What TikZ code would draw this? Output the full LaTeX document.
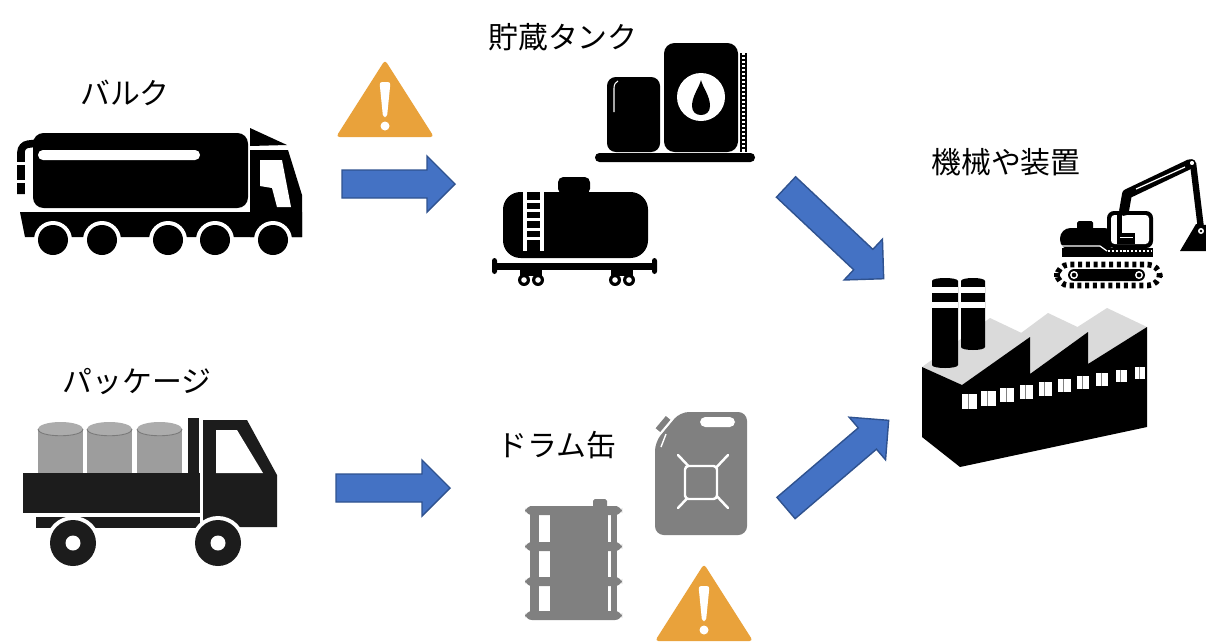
\documentclass[tikz,border=0pt]{standalone}
\usepackage{fontspec}
\usepackage{xcolor}
\newfontfamily\jpfont{Noto Sans CJK JP}

\definecolor{flowblue}{HTML}{4472C4}
\definecolor{flowedge}{HTML}{2F528F}
\definecolor{warnorange}{HTML}{E9A23B}
\definecolor{cangray}{HTML}{808080}
\definecolor{barrelgray}{HTML}{9D9D9D}
\definecolor{barreledge}{HTML}{7A7A7A}
\definecolor{truckgray}{HTML}{1C1C1C}
\definecolor{roofgray}{HTML}{DADADA}

\begin{document}
\begin{tikzpicture}[x=0.02cm, y=-0.02cm,
    jptext/.style={font=\jpfont\fontsize{17}{20}\selectfont, inner sep=0pt},
    flow/.style={fill=flowblue, draw=flowedge, line width=0.8pt},
    warnsign/.style={fill=warnorange, rounded corners=2pt}]

    % White page, sized in pixels
    \fill[white] (0,0) rectangle (1206,643);
    \useasboundingbox (0,0) rectangle (1206,643);

    % Labels
    \node[jptext] (bulk) at (125,93) {バルク};
    \node[jptext] (storage) at (563,37) {貯蔵タンク};
    \node[jptext] (machinery) at (1006,162) {機械や装置};
    \node[jptext] (package) at (137,382) {パッケージ};
    \node[jptext] (drum) at (557,445) {ドラム缶};

    % Block arrows: tail x / tail y / angle / length
    \foreach \x/\y/\a/\l in {342/184/0/113, 336/488/0/114, 786/187/-43.2/134, 786/508/40.5/135}
        \draw[flow, shift={(\x,\y)}, rotate=\a] (0,-14) -- (\l-28,-14) -- (\l-28,-28) -- (\l,0)
            -- (\l-28,28) -- (\l-28,14) -- (0,14) -- cycle;

    % Warning signs
    \foreach \x/\y in {385/60, 704/564} {
        \fill[warnsign] (\x,\y) -- (\x+49,\y+77) -- (\x-49,\y+77) -- cycle;
        \fill[white, rounded corners=1.5pt] (\x-5.5,\y+22) -- (\x+5.5,\y+22) -- (\x+2,\y+57) -- (\x-2,\y+57) -- cycle;
        \fill[white] (\x,\y+66) circle[radius=4.5];
    }

    % Draw the tanker truck
    \fill[rounded corners=6pt] (33,133) rectangle (248,208);
    \fill[white, rounded corners=2.8pt] (38,150) rectangle (200,160);
    \draw[line width=4.3pt, rounded corners=4pt] (21,194) -- (21,145) -- (38,143);
    \fill[white] (15,162) rectangle (28,165);
    \fill[white] (15,180) rectangle (28,183);
    \fill (20,212) -- (302,212) -- (302,237) -- (25,237) -- cycle;
    \fill (250,128) -- (287,145) -- (250,146) -- cycle;
    \fill (250,150) -- (288,150) -- (302,195) -- (302,237) -- (250,237) -- cycle;
    \fill[white] (260,160) -- (282,160) -- (291,207) -- (277,207) -- (272,188) -- (260,186) -- cycle;
    \foreach \x in {53,102,168,215,273} {
        \fill[white] (\x,240) circle[radius=19];
        \fill (\x,240) circle[radius=15];
    }

    % Draw the storage tanks
    \fill[rounded corners=5pt] (607,77) rectangle (660,152);
    \draw[white, line width=0.6pt] (614,112) -- (614,88) .. controls (614,84) and (616,82) .. (618,81);
    \fill[rounded corners=6pt] (664,43) rectangle (738,152);
    \fill[white] (701,97) circle[radius=24];
    \fill (701,80) .. controls (703,88) and (710,96) .. (710,106) .. controls (710,112) and (706,115) .. (701,115)
        .. controls (696,115) and (692,112) .. (692,106) .. controls (692,96) and (699,88) .. (701,80);
    \draw[line width=0.8pt] (741,53) -- (741,152) (746,53) -- (746,152);
    \foreach \y in {56,60,...,148}
        \draw[line width=0.6pt] (741,\y) -- (746,\y);
    \fill[rounded corners=2.5pt] (595,153) rectangle (755,162);

    % Draw the rail tank car
    \fill[rounded corners=10pt] (503,192) rectangle (648,258);
    \fill[rounded corners=3pt] (558,177) rectangle (590,194);
    \fill[white] (523,192) rectangle (527,251);
    \fill[white] (540,192) rectangle (544,251);
    \foreach \y in {200,209,218,228,237}
        \fill[white] (527,\y) rectangle (540,\y+2.5);
    \fill (497,263) rectangle (652,270);
    \fill[rounded corners=1.5pt] (492,258) rectangle (497,274);
    \fill[rounded corners=1.5pt] (652,258) rectangle (657,274);
    \fill (520,270) rectangle (542,276);
    \fill (611,270) rectangle (633,276);
    \foreach \x in {524,538,615,629} {
        \fill (\x,280) circle[radius=6];
        \fill[white] (\x,280) circle[radius=2.8];
    }

    % Draw the package truck
    \foreach \x in {38,87,137} {
        \fill[barrelgray] (\x,429) rectangle (\x+45,473);
        \fill[barrelgray!85!white] (\x+22.5,429) ellipse[x radius=22.5, y radius=7];
        \draw[barreledge, line width=0.5pt] (\x,429) .. controls (\x,438) and (\x+45,438) .. (\x+45,429);
    }
    \fill[truckgray] (23,473) rectangle (200,513);
    \fill[truckgray] (36,517) rectangle (200,528);
    \fill[truckgray] (188,418) rectangle (199,473);
    \fill[truckgray] (203,420) -- (247,420) -- (277,475) -- (277,527) -- (203,527) -- cycle;
    \fill[white] (216,430) -- (237,430) -- (263,473) -- (216,473) -- cycle;
    \foreach \x in {73,218} {
        \fill[white] (\x,543) circle[radius=27];
        \fill[truckgray] (\x,543) circle[radius=23];
        \fill[white] (\x,543) circle[radius=7.5];
    }

    % Draw the drum
    \fill[cangray] (550,506) rectangle (608,615);
    \fill[cangray, rounded corners=1pt] (593,499) rectangle (607,508);
    \fill[cangray] (530,506) rectangle (539,618);
    \fill[cangray] (611,506) rectangle (617,618);
    \foreach \y in {506,542,577,611}
        \fill[cangray, rounded corners=4pt] (525,\y) rectangle (622,\y+9);

    % Draw the jerrycan
    \fill[cangray, rounded corners=5pt] (655,442) -- (680,412) -- (747,412) -- (747,535) -- (655,535) -- cycle;
    \fill[cangray, draw=white, line width=1pt, rotate around={50:(663,424)}] (654,420) rectangle (672,428);
    \fill[white, rounded corners=3pt] (700,417) rectangle (735,427);
    \draw[white, line width=0.8pt] (661,447) -- (666,434);
    \draw[white, line width=1.4pt, line cap=round] (678,455) -- (728,508) (728,455) -- (678,508);
    \fill[cangray, draw=white, line width=1.4pt, rounded corners=2pt] (685,466) rectangle (717,499);

    % Draw the excavator
    \draw[line width=3.2pt, dash pattern=on 2.3pt off 2.1pt, rounded corners=7pt] (1057,264.5) rectangle (1160,285.5);
    \fill[rounded corners=3.5pt] (1068,269) rectangle (1145,281);
    \foreach \x in {1074,1139} {
        \fill[white] (\x,275) circle[radius=4];
        \fill (\x,275) circle[radius=2.3];
    }
    \fill[rounded corners=6pt] (1060,228) rectangle (1115,250);
    \fill[rounded corners=1pt] (1077,221) rectangle (1093,230);
    \fill (1062,248) rectangle (1153,257);
    \draw[white, line width=0.7pt] (1062,246) -- (1100,246) -- (1107,251);
    \draw[white, line width=1.5pt, dash pattern=on 1.2pt off 1pt] (1108,251) -- (1152,251);
    \fill[rounded corners=4pt] (1107,211) rectangle (1153,248);
    \fill[white, rounded corners=2pt] (1111,215) rectangle (1149,244);
    \fill (1117,215) rectangle (1122,244);
    \fill (1117,233) rectangle (1135,244);
    \draw[white, line width=0.5pt] (1120,237) -- (1133,237);
    \draw[line width=5.6pt, line cap=round, line join=round] (1124,211) -- (1127,194) -- (1190,164);
    \draw[white, line width=0.7pt] (1136,189) -- (1185,167);
    \draw[line width=3.6pt] (1193,163) -- (1201,229);
    \fill[white] (1192,163) circle[radius=3];
    \draw[line width=0.8pt] (1192,163) circle[radius=3];
    \fill (1180,251) -- (1206,251) -- (1206,225) -- (1196,224) -- cycle;
    \fill[white] (1201,231) circle[radius=3];
    \fill (1201,231) circle[radius=1.4];

    % Draw the factory: roofs back to front, chimneys, then the walls
    \fill[roofgray] (1088,364) -- (1147,327) -- (1107,308) -- (1048,346) -- cycle;
    \fill[roofgray] (1030,374) -- (1088,332) -- (1048,313) -- (990,356) -- cycle;
    \fill[roofgray] (962,385) -- (1030,337) -- (990,318) -- (922,367) -- cycle;
    \foreach \cl/\cr/\cb in {932/958/365, 961/985/347} {
        \fill (\cl,\cb) .. controls (\cl,\cb+4) and (\cr,\cb+4) .. (\cr,\cb) -- (\cr,281)
            .. controls (\cr,277) and (\cl,277) .. (\cl,281) -- cycle;
        \fill[white] (\cl,287) rectangle (\cr,293);
        \fill[white] (\cl,302) rectangle (\cr,308);
    }
    \fill (922,367) -- (962,385) -- (1030,337) -- (1030,374) -- (1088,332) -- (1088,364) -- (1147,327)
        -- (1147,427) -- (960,467) -- (922,437) -- cycle;
    \foreach \i in {0,...,9} {
        \pgfmathsetmacro\wx{962+19.2*\i}
        \pgfmathsetmacro\wy{394-3.05*\i}
        \pgfmathsetmacro\ww{15-0.5*\i}
        \pgfmathsetmacro\wh{15-0.3*\i}
        \fill[white] (\wx,\wy) rectangle (\wx+\ww,\wy+\wh);
        \draw[gray, line width=0.4pt] (\wx+0.45*\ww,\wy) -- (\wx+0.45*\ww,\wy+\wh);
    }

\end{tikzpicture}
\end{document}
